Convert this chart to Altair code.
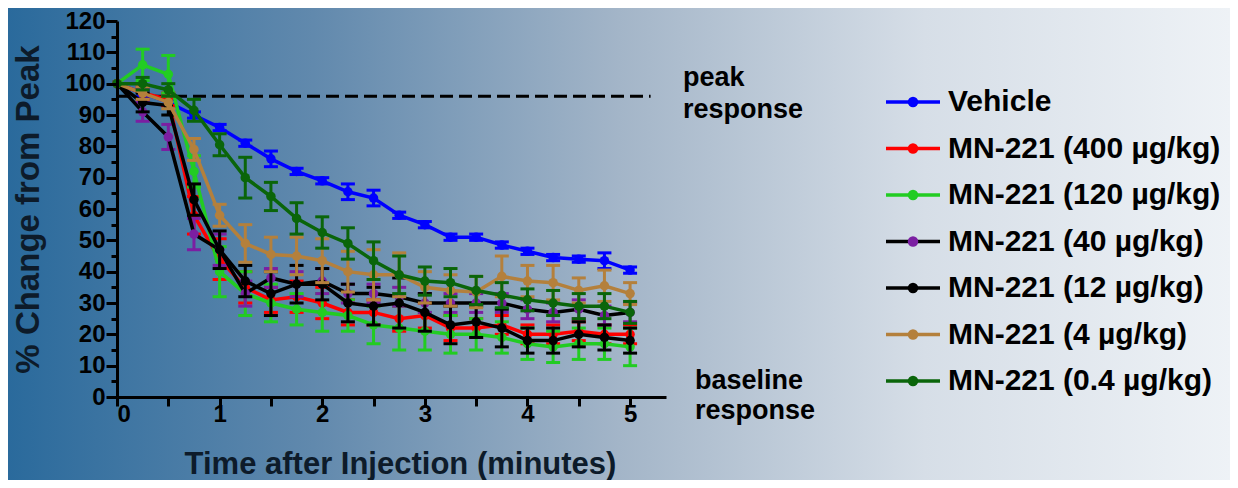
import altair as alt
import pandas as pd

# ---- data ----
times = [0, 0.25, 0.5, 0.75, 1, 1.25, 1.5, 1.75, 2, 2.25, 2.5, 2.75, 3, 3.25, 3.5, 3.75, 4, 4.25, 4.5, 4.75, 5]

series_names = ["Vehicle", "MN-221 (400 µg/kg)", "MN-221 (120 µg/kg)", "MN-221 (40 µg/kg)",
                "MN-221 (12 µg/kg)", "MN-221 (4 µg/kg)", "MN-221 (0.4 µg/kg)"]

vehicle_mean = [100, 97, 94, 90, 86, 81, 76, 72, 69, 65.5, 63.5, 58, 55, 51, 51, 48.5, 46.5, 44.5, 44, 43.5, 40.5]
vehicle_err = [0, 1, 1, 1, 1, 1, 2.5, 1, 1, 2.5, 2.5, 1, 1, 1, 1, 1, 1, 1, 1, 2.5, 1]

d400_mean = [100, 97, 95, 58, 44, 35, 31, 32, 30, 27, 27, 25, 26, 22, 22, 23, 20, 20, 21, 20, 20]
d400_err = [0, 2, 2, 6, 6.5, 5, 4, 5, 5, 4, 4, 4, 4, 4, 3, 3, 3, 3, 3, 3, 3]

d120_mean = [100, 106, 103, 72, 40, 33, 30, 28, 27, 26, 23, 22, 21, 20, 20, 19, 17, 16, 17, 17, 16]
d120_err = [0, 5, 6, 5, 8, 7, 6, 5, 6, 5, 6, 7, 6, 6, 5, 5, 5, 5, 5, 5, 6]

d40_mean = [100, 91, 83, 52, 47, 33, 38, 36, 37, 33, 33, 32, 30, 30, 30, 30, 28, 27, 28, 26, 27]
d40_err = [0, 3, 4, 5, 5, 4, 3, 4, 4, 3, 3, 3, 3, 3, 3, 3, 3, 3, 3, 3, 3]

d12_mean = [100, 94, 93, 63, 47, 37, 33, 36, 36, 30, 29, 30, 27, 23, 24, 22, 18, 18, 20, 19, 18]
d12_err = [0, 3, 3, 5, 6, 5, 7, 6, 5, 6, 6, 8, 6, 6, 5, 6, 4, 4, 4, 4, 4]

d4_mean = [100, 97, 94, 79, 58, 49, 45.5, 45, 43.5, 40, 39, 39, 35, 34, 33.5, 38.5, 37, 36.5, 34, 35.5, 33]
d4_err = [0, 2, 2, 3.5, 3.5, 6, 5.5, 6, 7, 6.5, 8, 7, 5, 5, 5, 6.5, 5, 5.5, 4, 5, 3.5]

d04_mean = [100, 100, 98, 91.5, 80.5, 70, 64, 57, 52.5, 49, 43.5, 39, 37, 36.5, 34, 32.5, 31, 30, 29, 29, 27]
d04_err = [0, 2, 2, 3.5, 3.5, 6.5, 4.5, 5, 5, 5, 6, 6, 4.5, 4.5, 4.5, 4, 3.5, 4, 4, 4, 3.5]

point_colors = ["#0000ff", "#ff0000", "#22cc22", "#7b1fa2", "#000000", "#b4803c", "#0a650a"]
line_colors = ["#0000ff", "#ff0000", "#22cc22", "#000000", "#000000", "#b4803c", "#0a650a"]

x_ticks = [0, 0.5, 1, 1.5, 2, 2.5, 3, 3.5, 4, 4.5, 5]
y_ticks = list(range(0, 121, 5))

peak_level = 96
peak_span = [0, 5.2]

means = [vehicle_mean, d400_mean, d120_mean, d40_mean, d12_mean, d4_mean, d04_mean]
errs = [vehicle_err, d400_err, d120_err, d40_err, d12_err, d4_err, d04_err]

FONT = "Liberation Sans"
W, H = 549, 376
PAD_TOP = 13

x_scale = alt.Scale(domain=[0, 5.35], nice=False, zero=False)
y_scale = alt.Scale(domain=[0, 120], nice=False)

x_axis = alt.Axis(
    values=x_ticks,
    labelExpr="datum.value % 1 === 0 ? format(datum.value, 'd') : ''",
    tickSize=9, zindex=2, labelOverlap=False,
    grid=False, domainColor="black", domainWidth=3, tickColor="black", tickWidth=3,
    labelFont=FONT, labelFontSize=24, labelFontWeight="bold", labelColor="black",
    labelPadding=-4, title="Time after Injection (minutes)", titleFont=FONT,
    titleFontSize=31, titleFontWeight="bold", titleColor="#0d1b2a", titlePadding=23,
    titleX=283,
)
y_axis = alt.Axis(
    values=y_ticks,
    labelExpr="datum.value % 10 === 0 ? format(datum.value, 'd') : ''",
    tickSize={"condition": {"test": "datum.value % 10 === 0", "value": 11}, "value": 6},
    zindex=2, labelOverlap=False,
    grid=False, domainColor="black", domainWidth=3, tickColor="black", tickWidth=3,
    labelFont=FONT, labelFontSize=24, labelFontWeight="bold", labelColor="black",
    labelPadding=1, title="% Change from Peak", titleFont=FONT, titleFontSize=33,
    titleFontWeight="bold", titleColor="#0d1b2a", titlePadding=19,
)


def X(field):
    return alt.X(field, scale=x_scale, axis=x_axis)


def Y(field):
    return alt.Y(field, scale=y_scale, axis=y_axis)


# background gradient
bg = alt.Chart(pd.DataFrame({"a": [0]})).mark_rect(
    color=alt.Gradient(
        gradient="linear", x1=0, x2=1, y1=0, y2=0,
        stops=[
            alt.GradientStop(color="#2a6a9c", offset=0),
            alt.GradientStop(color="#6189ad", offset=0.25),
            alt.GradientStop(color="#a3b5c8", offset=0.5),
            alt.GradientStop(color="#d6dee7", offset=0.75),
            alt.GradientStop(color="#eef2f6", offset=1),
        ],
    )
).encode(x=alt.value(-109), x2=alt.value(1113), y=alt.value(-PAD_TOP), y2=alt.value(472 - PAD_TOP))

layers = []
peak_df = pd.DataFrame({"y": [peak_level], "x": [peak_span[0]], "x2": [peak_span[1]]})
peak = alt.Chart(peak_df).mark_rule(color="black", strokeWidth=3, strokeDash=[13, 6]).encode(
    x=X("x:Q"), x2="x2:Q", y=Y("y:Q"),
)
layers.append(peak)

for name, m, e, pc, lc in zip(series_names, means, errs, point_colors, line_colors):
    df = pd.DataFrame({"t": times, "mean": m, "err": e})
    df["lo"] = df["mean"] - df["err"]
    df["hi"] = df["mean"] + df["err"]
    base = alt.Chart(df)
    eb = base.transform_filter("datum.err > 0")
    layers.append(eb.mark_rule(color=pc, strokeWidth=3).encode(
        x=X("t:Q"), y=Y("lo:Q"), y2="hi:Q"))
    for f in ["lo", "hi"]:
        layers.append(eb.mark_tick(color=pc, orient="horizontal", size=14, thickness=3, opacity=1).encode(
            x=X("t:Q"), y=Y(f + ":Q")))
    layers.append(base.mark_line(color=lc, strokeWidth=3.5).encode(
        x=X("t:Q"), y=Y("mean:Q")))
    layers.append(base.mark_circle(color=pc, size=90, opacity=1).encode(
        x=X("t:Q"), y=Y("mean:Q")))

main = alt.layer(*layers)

# annotations
peak_txt = alt.Chart(pd.DataFrame({"a": [0]})).mark_text(
    text=["peak", "response"], align="left", baseline="middle", font=FONT, fontSize=27,
    fontWeight="bold", color="black", lineHeight=32,
).encode(x=alt.value(566), y=alt.value(70 - PAD_TOP))
base_txt = alt.Chart(pd.DataFrame({"a": [0]})).mark_text(
    text=["baseline", "response"], align="left", baseline="middle", font=FONT, fontSize=27,
    fontWeight="bold", color="black", lineHeight=30,
).encode(x=alt.value(578), y=alt.value(373 - PAD_TOP))

# legend
leg_df = pd.DataFrame({"series": series_names, "pc": point_colors, "lc": line_colors})
leg_y = alt.Y("series:N", sort=series_names,
              scale=alt.Scale(type="point", range=[94 - PAD_TOP, 373 - PAD_TOP], padding=0), axis=None)
leg_line = alt.Chart(leg_df).mark_rule(strokeWidth=3.5).encode(
    x=alt.value(769), x2=alt.value(823), y=leg_y, color=alt.Color("lc:N", scale=None))
leg_dot = alt.Chart(leg_df).mark_circle(size=110, opacity=1).encode(
    x=alt.value(796), y=leg_y, color=alt.Color("pc:N", scale=None))
leg_txt = alt.Chart(leg_df).mark_text(
    align="left", baseline="middle", font=FONT, fontSize=30, fontWeight="bold", color="black"
).encode(x=alt.value(831), y=leg_y, text="series:N")
legend = alt.layer(leg_line, leg_dot, leg_txt)

chart = alt.layer(bg, main, peak_txt, base_txt, legend).resolve_scale(y="independent").properties(
    width=W, height=H,
    autosize=alt.AutoSizeParams(type="none"),
    padding={"left": 109, "top": PAD_TOP, "right": 564, "bottom": 472 - PAD_TOP - H},
).configure_view(stroke=None).configure(background="#2a6a9c")

chart.save("out.html", embed_options={"renderer": "svg", "actions": False})
